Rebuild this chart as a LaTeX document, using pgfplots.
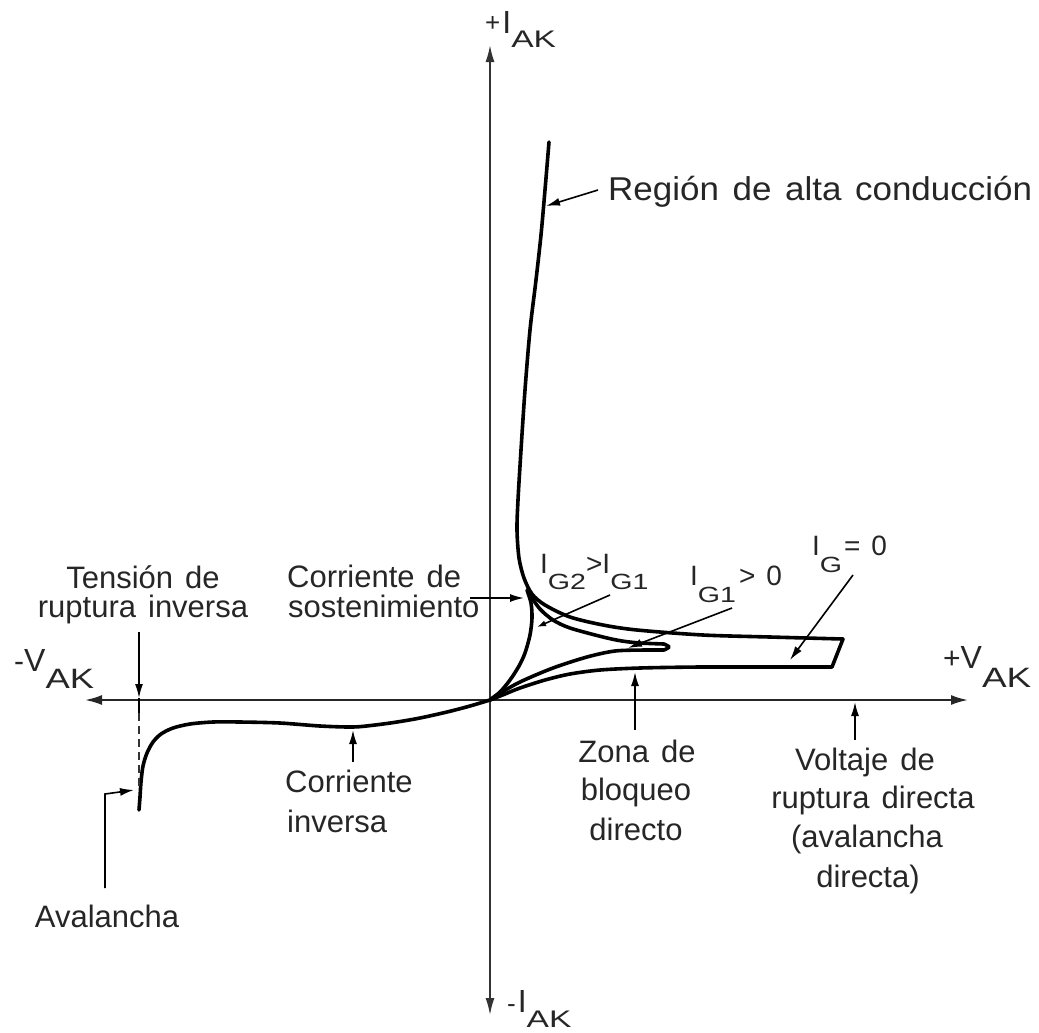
\documentclass[border=0pt]{standalone}
\usepackage{fontspec}
\setmainfont[WordSpace=1.4]{Liberation Sans}
\usepackage{pgfplots}
\pgfplotsset{compat=1.18}
\usetikzlibrary{arrows.meta}

% lowered, widened index text: #1 drop, #2 size, #3 horizontal scale, #4 text
\newcommand{\sub}[4]{\raisebox{-#1}{\scalebox{#3}[1]{\fontsize{#2}{#2}\selectfont #4}}}

\tikzset{
  curve/.style={black, line width=3.6bp, line cap=round, line join=round},
  lbl/.style={font=\fontsize{31bp}{36bp}\selectfont, inner sep=0pt, text=black!85},
  lead/.style={black, line width=1.6bp, -{Latex[length=14bp,width=8bp]}},
}

\begin{document}
\begin{tikzpicture}
\begin{axis}[
  scale only axis, width=1039bp, height=1033bp,
  xmin=0, xmax=1039, ymin=0, ymax=1033, y dir=reverse,
  hide axis, clip=false,
]

% ---- V_AK and I_AK axes
\draw[black!80, line width=1.8bp, {Latex[length=17bp,width=9bp]}-{Latex[length=17bp,width=9bp]}]
  (axis cs:490,1015) -- (axis cs:490,45);
\draw[black!85, line width=2bp, {Latex[length=17bp,width=10bp]}-{Latex[length=17bp,width=10bp]}]
  (axis cs:85,700) -- (axis cs:968,700);

% ---- on-state branch and return path for I_G = 0
\addplot[curve, smooth] coordinates {
  (549,142) (545,190) (541,235) (536,280) (530,330) (525,390) (521,450)
  (518,500) (517,530) (519,558) (524,578) (532,594) (545,605) (570,617)
  (603,625) (637,630) (703,635) (770,637) (843,639)};
\addplot[curve, sharp plot] coordinates {(843,639) (832,667)};
% forward blocking, I_G = 0
\addplot[curve, smooth] coordinates {
  (832,667) (770,667) (700,667) (640,668) (600,670) (570,674) (545,680)
  (520,688) (505,694) (490,700)};

% ---- I_G1 > 0
\addplot[curve, smooth] coordinates {
  (490,700) (497,695) (520,682) (553,668) (587,657) (615,651) (645,650) (664,650)};
\addplot[curve, smooth] coordinates {(664,650) (669,647) (664,644)};
\addplot[curve, smooth] coordinates {
  (664,644) (640,643) (622,641) (603,637) (570,628) (553,620) (540,609) (530,595)};

% ---- I_G2 > I_G1
\addplot[curve, smooth] coordinates {
  (490,700) (500,692) (510,680) (519,666) (525,653) (530,635) (532,618)
  (531,603) (527,590)};

% ---- reverse characteristic
\addplot[curve, smooth] coordinates {
  (490,700) (470,706) (447,712) (420,718) (397,722) (375,725) (353,727)
  (320,726) (280,723) (240,722) (213,722) (190,724) (173,728) (161,734)
  (153,742) (147,753) (143,766) (141,782) (140,797) (139,810)};

% reverse breakdown voltage marker
\draw[black!80, line width=1.5bp, dash pattern=on 8bp off 5bp]
  (axis cs:139,700) -- (axis cs:139,790);

% ---- leader arrows
\draw[lead] (axis cs:598,190) -- (axis cs:546,206);
\draw[lead] (axis cs:470,598) -- (axis cs:524,598);
\draw[lead, -{Latex[length=9bp,width=6bp]}] (axis cs:610,595) -- (axis cs:537,627);
\draw[lead] (axis cs:732,608) -- (axis cs:628,648);
\draw[lead] (axis cs:853,575) -- (axis cs:790,660);
\draw[lead] (axis cs:139,632) -- (axis cs:139,698);
\draw[black, line width=1.5bp] (axis cs:139,698) -- (axis cs:139,713);
\draw[lead] (axis cs:353,762) -- (axis cs:353,730);
\draw[lead] (axis cs:105,888) -- (axis cs:105,794) -- (axis cs:134,790);
\draw[lead] (axis cs:635,730) -- (axis cs:635,672);
\draw[lead] (axis cs:855,740) -- (axis cs:855,702);

% ---- axis names
\node[lbl, anchor=base west] at (axis cs:485,33)
  {\raisebox{2bp}{\fontsize{26bp}{26bp}\selectfont +}\kern2bp\fontsize{32bp}{36bp}\selectfont I\sub{14bp}{24bp}{1.4}{AK}};
\node[lbl, anchor=base west] at (axis cs:507,1012)
  {{\fontsize{26bp}{26bp}\selectfont -}\kern2bp\fontsize{32bp}{36bp}\selectfont I\sub{15bp}{24bp}{1.4}{AK}};
\node[lbl, anchor=base west] at (axis cs:14,671)
  {{\fontsize{30bp}{30bp}\selectfont -}\fontsize{32bp}{36bp}\selectfont V\sub{17bp}{28bp}{1.3}{AK}};
\node[lbl, anchor=base west] at (axis cs:943,668)
  {{\fontsize{30bp}{30bp}\selectfont +}\fontsize{32bp}{36bp}\selectfont V\sub{19bp}{28bp}{1.32}{AK}};

% ---- gate current labels
\node[lbl, anchor=base west, font=\fontsize{28bp}{32bp}\selectfont] at (axis cs:540,573)
  {I\sub{16bp}{22bp}{1.3}{G2}>I\sub{16bp}{22bp}{1.3}{G1}};
\node[lbl, anchor=base west, font=\fontsize{28bp}{32bp}\selectfont] at (axis cs:690,585)
  {I\sub{17bp}{22bp}{1.3}{G1}\kern3bp> 0};
\node[lbl, anchor=base west, font=\fontsize{28bp}{32bp}\selectfont] at (axis cs:812,555)
  {I\sub{17bp}{22bp}{1.3}{G}\kern2bp= 0};

% ---- region labels
\node[lbl, anchor=base west, font=\fontsize{33bp}{36bp}\selectfont] at (axis cs:608,200)
  {\scalebox{1.06}[1]{Región de alta conducción}};
\node[lbl, anchor=base] at (axis cs:143,588) {Tensión de};
\node[lbl, anchor=base] at (axis cs:143,617) {ruptura inversa};
\node[lbl, anchor=base west] at (axis cs:287,587) {Corriente de};
\node[lbl, anchor=base west] at (axis cs:288,617) {sostenimiento};
\node[lbl, anchor=base west] at (axis cs:285,792) {Corriente};
\node[lbl, anchor=base west] at (axis cs:287,832) {inversa};
\node[lbl, anchor=base] at (axis cs:107,927) {Avalancha};
\node[lbl, anchor=base] at (axis cs:637,762) {Zona de};
\node[lbl, anchor=base] at (axis cs:636,800) {bloqueo};
\node[lbl, anchor=base] at (axis cs:636,840) {directo};
\node[lbl, anchor=base] at (axis cs:865,770) {Voltaje de};
\node[lbl, anchor=base] at (axis cs:873,808) {ruptura directa};
\node[lbl, anchor=base] at (axis cs:867,847) {(avalancha};
\node[lbl, anchor=base] at (axis cs:868,887) {directa)};
\end{axis}
\pgfresetboundingbox
\path[use as bounding box] (0,0) rectangle (1039bp,1033bp);
\end{tikzpicture}
\end{document}
